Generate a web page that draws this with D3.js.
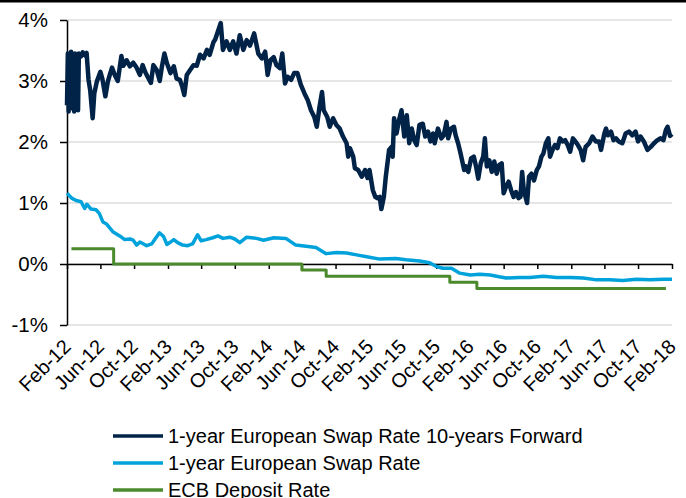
<!DOCTYPE html>
<html>
<head>
<meta charset="utf-8">
<script src="https://cdn.jsdelivr.net/npm/d3@7/dist/d3.min.js"></script>
<style>
    body { margin: 0; background: #fff; }
    svg { display: block; font-family: "Liberation Sans", Arial, sans-serif; }
</style>
</head>
<body>
<script>
// 1-year European Swap Rate 10-years Forward
const fwdDates = ["2012-02-01","2012-02-04","2012-02-07","2012-02-10","2012-02-13","2012-02-16","2012-02-20","2012-02-23","2012-02-27","2012-03-01","2012-03-05","2012-03-08","2012-03-12","2012-03-15","2012-03-22","2012-03-29","2012-04-05","2012-04-12","2012-04-19","2012-04-25","2012-05-04","2012-05-10","2012-05-19","2012-06-01","2012-06-08","2012-06-19","2012-06-28","2012-07-05","2012-07-13","2012-07-23","2012-08-03","2012-08-16","2012-08-23","2012-09-04","2012-09-16","2012-09-28","2012-10-10","2012-10-22","2012-11-01","2012-11-10","2012-11-19","2012-12-01","2012-12-10","2012-12-22","2013-01-02","2013-01-10","2013-01-19","2013-01-28","2013-02-10","2013-02-22","2013-03-04","2013-03-16","2013-03-25","2013-04-01","2013-04-10","2013-04-22","2013-05-04","2013-05-16","2013-05-28","2013-06-10","2013-06-22","2013-07-02","2013-07-16","2013-07-22","2013-08-11","2013-08-19","2013-09-01","2013-09-13","2013-09-25","2013-10-07","2013-10-19","2013-11-01","2013-11-13","2013-11-25","2013-12-10","2013-12-25","2014-01-07","2014-01-19","2014-01-28","2014-02-07","2014-02-19","2014-03-01","2014-03-13","2014-03-22","2014-04-01","2014-04-10","2014-04-23","2014-05-04","2014-05-16","2014-05-28","2014-06-10","2014-06-22","2014-07-04","2014-07-16","2014-07-25","2014-08-04","2014-08-13","2014-08-19","2014-09-01","2014-09-10","2014-09-22","2014-10-04","2014-10-16","2014-10-28","2014-11-10","2014-11-16","2014-11-22","2014-12-04","2014-12-10","2014-12-22","2015-01-04","2015-01-16","2015-01-25","2015-02-01","2015-02-13","2015-02-22","2015-03-01","2015-03-10","2015-03-16","2015-03-25","2015-04-01","2015-04-10","2015-04-13","2015-04-22","2015-04-26","2015-05-01","2015-05-10","2015-05-19","2015-05-28","2015-06-07","2015-06-16","2015-06-25","2015-07-04","2015-07-13","2015-07-22","2015-08-01","2015-08-13","2015-08-22","2015-09-01","2015-09-10","2015-09-19","2015-09-25","2015-10-07","2015-10-19","2015-10-28","2015-11-07","2015-11-13","2015-11-23","2015-12-04","2015-12-10","2015-12-19","2015-12-28","2016-01-10","2016-01-16","2016-01-25","2016-02-04","2016-02-14","2016-02-22","2016-03-01","2016-03-10","2016-03-19","2016-03-25","2016-04-01","2016-04-10","2016-04-19","2016-04-28","2016-05-07","2016-05-16","2016-05-25","2016-06-01","2016-06-10","2016-06-19","2016-06-28","2016-07-07","2016-07-16","2016-07-25","2016-08-01","2016-08-07","2016-08-13","2016-08-25","2016-09-01","2016-09-10","2016-09-19","2016-09-29","2016-10-07","2016-10-16","2016-10-23","2016-11-01","2016-11-10","2016-11-16","2016-11-25","2016-12-04","2016-12-13","2016-12-22","2017-01-01","2017-01-10","2017-01-19","2017-01-28","2017-02-07","2017-02-16","2017-02-25","2017-03-07","2017-03-16","2017-03-25","2017-04-07","2017-04-19","2017-05-01","2017-05-13","2017-05-20","2017-06-01","2017-06-07","2017-06-14","2017-06-25","2017-07-04","2017-07-13","2017-07-23","2017-08-05","2017-08-17","2017-08-29","2017-09-10","2017-09-22","2017-10-01","2017-10-10","2017-10-22","2017-11-04","2017-11-16","2017-11-28","2017-12-10","2017-12-22","2018-01-01","2018-01-10","2018-01-16","2018-01-25","2018-02-01"];
const fwdValues = [2.60,3.45,2.50,3.40,2.55,3.48,2.62,3.42,2.50,3.45,2.55,3.40,2.52,3.45,3.40,3.47,3.42,3.46,3.02,2.85,2.39,2.80,2.99,3.15,3.04,2.75,2.99,3.10,3.22,3.10,3.00,3.41,3.25,3.34,3.24,3.30,3.22,3.10,3.26,3.15,3.07,2.97,3.26,3.18,3.00,3.24,3.45,3.29,3.13,3.24,3.04,3.02,2.90,2.77,3.10,3.18,3.26,3.25,3.43,3.37,3.51,3.43,3.64,3.68,3.95,3.51,3.65,3.51,3.65,3.45,3.75,3.51,3.67,3.58,3.78,3.45,3.37,3.48,3.10,3.34,3.39,3.26,3.21,3.45,2.96,3.07,3.02,3.13,3.13,2.94,2.80,2.69,2.52,2.41,2.25,2.58,2.82,2.52,2.41,2.25,2.39,2.28,2.22,2.09,1.98,1.76,1.90,1.76,1.57,1.54,1.43,1.54,1.41,1.54,1.21,1.10,1.08,1.10,0.90,1.10,1.43,1.76,1.87,1.92,1.76,2.39,2.14,2.36,2.52,2.09,2.44,1.98,2.22,2.03,1.95,2.28,2.30,2.09,2.17,2.01,2.14,1.98,2.22,2.06,2.11,2.33,2.06,2.22,2.25,2.11,1.98,1.81,1.54,1.60,1.51,1.73,1.76,1.60,1.40,1.65,1.76,2.06,1.60,1.70,1.51,1.68,1.48,1.62,1.65,1.16,1.27,1.35,1.21,1.10,1.18,1.08,1.10,1.51,1.21,1.00,1.43,1.48,1.37,1.54,1.60,1.76,1.81,1.98,2.06,1.76,1.87,1.95,1.90,2.06,2.01,2.03,1.95,1.84,2.06,2.01,1.95,1.87,1.70,1.92,1.98,2.09,2.01,2.01,1.87,2.14,2.22,2.11,2.17,2.03,2.06,2.01,1.98,2.14,2.17,2.11,2.17,2.01,2.09,2.01,1.87,1.92,1.98,2.03,2.06,2.03,2.20,2.25,2.10,2.13];

// 1-year European Swap Rate
const swapDates = ["2012-02-01","2012-02-18","2012-03-05","2012-03-23","2012-04-05","2012-04-13","2012-04-28","2012-05-16","2012-05-28","2012-06-10","2012-06-22","2012-07-16","2012-08-10","2012-08-28","2012-09-16","2012-09-28","2012-10-10","2012-10-22","2012-11-16","2012-12-04","2012-12-16","2013-01-01","2013-01-16","2013-01-28","2013-02-10","2013-02-22","2013-03-08","2013-03-26","2013-04-13","2013-05-01","2013-05-19","2013-06-01","2013-06-19","2013-07-13","2013-08-01","2013-08-19","2013-09-13","2013-10-01","2013-10-19","2013-11-13","2013-12-19","2014-01-13","2014-02-19","2014-04-04","2014-05-10","2014-06-16","2014-07-22","2014-08-28","2014-10-04","2014-11-10","2014-12-16","2015-01-22","2015-03-10","2015-05-07","2015-06-13","2015-08-01","2015-09-07","2015-10-01","2015-10-25","2015-11-25","2015-12-25","2016-02-01","2016-03-07","2016-04-13","2016-05-16","2016-06-10","2016-07-28","2016-09-04","2016-10-22","2016-12-10","2017-01-28","2017-03-16","2017-05-04","2017-06-19","2017-08-07","2017-09-25","2017-11-13","2018-01-01","2018-02-01"];
const swapValues = [1.16,1.08,1.04,1.02,0.91,0.98,0.90,0.89,0.83,0.69,0.66,0.53,0.46,0.40,0.41,0.39,0.31,0.36,0.30,0.33,0.41,0.51,0.45,0.32,0.36,0.40,0.35,0.31,0.30,0.33,0.48,0.38,0.40,0.43,0.46,0.42,0.44,0.41,0.35,0.44,0.42,0.39,0.43,0.42,0.31,0.29,0.27,0.17,0.19,0.18,0.15,0.12,0.08,0.09,0.07,0.05,0.02,-0.04,-0.07,-0.07,-0.15,-0.18,-0.17,-0.18,-0.21,-0.23,-0.22,-0.22,-0.20,-0.22,-0.22,-0.23,-0.26,-0.26,-0.27,-0.25,-0.26,-0.25,-0.25];

// ECB Deposit Rate (steps)
const ecbDates = ["2012-02-17","2012-07-19","2014-06-01","2014-08-28","2015-11-19","2016-02-25","2018-01-10"];
const ecbValues = [0.25,0.00,-0.10,-0.20,-0.30,-0.40,-0.40];

const tickLabels = ["Feb-12","Jun-12","Oct-12","Feb-13","Jun-13","Oct-13","Feb-14","Jun-14","Oct-14","Feb-15","Jun-15","Oct-15","Feb-16","Jun-16","Oct-16","Feb-17","Jun-17","Oct-17","Feb-18"];
const yTicks = [-1, 0, 1, 2, 3, 4];

const seriesNames = ["1-year European Swap Rate 10-years Forward", "1-year European Swap Rate", "ECB Deposit Rate"];
const seriesColors = ["#022348", "#00a2db", "#4b8a2c"];

let width = 686, height = 498;
let parseDate = d3.timeParse("%Y-%m-%d");
let parseTick = d3.timeParse("%b-%y");
let tickDates = tickLabels.map(t => parseTick(t));

let svg = d3.select("body").append("svg")
    .attr("width", width)
    .attr("height", height);

// thin black rule along the top
svg.append("rect")
    .attr("x", 0).attr("y", 0)
    .attr("width", width).attr("height", 2.5)
    .attr("fill", "#000");

let xScale = d3.scaleTime()
    .domain([tickDates[0], tickDates[tickDates.length - 1]])
    .range([67, 672]);

let yScale = d3.scaleLinear()
    .domain([-1, 4])
    .range([325, 20]);

// gridlines
svg.append("g")
    .selectAll("line")
    .data(yTicks)
    .join("line")
    .attr("x1", xScale.range()[0])
    .attr("x2", xScale.range()[1])
    .attr("y1", d => yScale(d))
    .attr("y2", d => yScale(d))
    .attr("stroke", "#dedede")
    .attr("stroke-width", 1.5);

// y axis
let yAxis = svg.append("g")
    .attr("transform", "translate(" + xScale.range()[0] + ",0)")
    .call(d3.axisLeft(yScale)
        .tickValues(yTicks)
        .tickSize(7)
        .tickSizeOuter(0)
        .tickPadding(12)
        .tickFormat(d => d + "%"));
yAxis.select(".domain").attr("stroke", "#000").attr("stroke-width", 1.5);
yAxis.selectAll(".tick line").attr("stroke", "#000").attr("stroke-width", 1.5);
yAxis.selectAll("text").attr("font-size", 20.5).attr("fill", "#000").attr("font-family", null);

// x axis sits on the 0% line
let xAxis = svg.append("g")
    .attr("transform", "translate(0," + yScale(0) + ")")
    .call(d3.axisBottom(xScale)
        .tickValues(tickDates)
        .tickSize(5)
        .tickSizeOuter(0)
        .tickFormat(""));
xAxis.select(".domain").attr("stroke", "#000").attr("stroke-width", 1.5);
xAxis.selectAll(".tick line").attr("stroke", "#000").attr("stroke-width", 1.5);

// rotated date labels below the plot
svg.append("g")
    .selectAll("text")
    .data(tickDates)
    .join("text")
    .attr("transform", (d, i) => "translate(" + (xScale(d) + 5) + ",348) rotate(-45)")
    .attr("text-anchor", "end")
    .attr("font-size", 20)
    .attr("fill", "#000")
    .text((d, i) => tickLabels[i]);

// series
let series = [
    { dates: fwdDates, values: fwdValues, width: 4.5, curve: d3.curveLinear },
    { dates: swapDates, values: swapValues, width: 3.5, curve: d3.curveLinear },
    { dates: ecbDates, values: ecbValues, width: 3, curve: d3.curveStepAfter }
];

series.forEach((s, i) => {
    let pts = s.dates.map((d, j) => ({ date: parseDate(d), v: s.values[j] }));
    let line = d3.line()
        .x(d => xScale(d.date))
        .y(d => yScale(d.v))
        .curve(s.curve);
    svg.append("path")
        .datum(pts)
        .attr("d", line)
        .attr("fill", "none")
        .attr("stroke", seriesColors[i])
        .attr("stroke-width", s.width)
        .attr("stroke-linejoin", "round");
});

// legend
let legend = svg.append("g")
    .selectAll("g")
    .data(seriesNames)
    .join("g")
    .attr("transform", (d, i) => "translate(113," + (436 + i * 27) + ")");
legend.append("line")
    .attr("x1", 0).attr("x2", 50)
    .attr("stroke", (d, i) => seriesColors[i])
    .attr("stroke-width", 3.5);
legend.append("text")
    .attr("x", 55)
    .attr("dy", "0.36em")
    .attr("font-size", 20)
    .attr("fill", "#000")
    .text(d => d);
</script>
</body>
</html>
